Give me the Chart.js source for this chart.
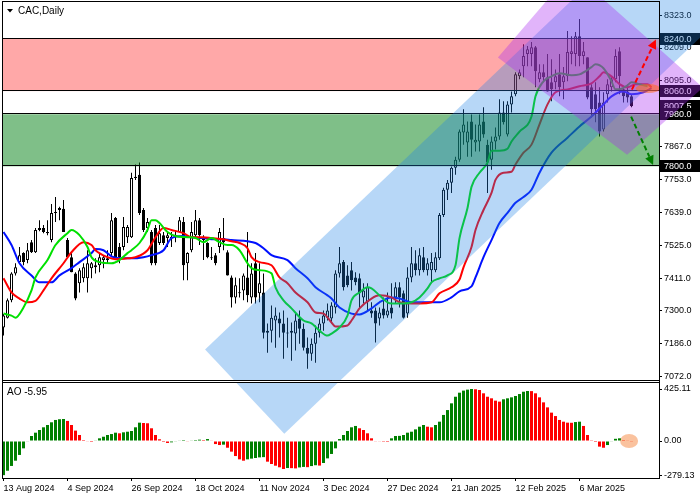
<!DOCTYPE html>
<html>
<head>
<meta charset="utf-8">
<script src="https://cdn.jsdelivr.net/npm/chart.js@4.4.1/dist/chart.umd.min.js"></script>
<style>
  html, body { margin: 0; padding: 0; background: #fff; }
  canvas { display: block; }
</style>
</head>
<body>
<canvas id="chart" width="700" height="500"></canvas>
<script>
// CAC, Daily - velas diarias (indice de barra 0 = 13 Aug 2024)
const opens = [7243,7277,7337,7430,7469,7500,7476,7538,7503,7587,7587,7573,7545,7639,7649,7653,7545,7486,7430,7396,
  7413,7413,7448,7458,7458,7476,7476,7500,7621,7521,7521,7555,7555,7760,7771,7649,7587,7573,7587,7535,
  7562,7552,7552,7559,7573,7608,7465,7510,7562,7614,7552,7535,7486,7493,7521,7552,7503,7416,7347,7361,
  7371,7416,7347,7465,7361,7364,7225,7232,7267,7274,7257,7226,7225,7222,7274,7239,7173,7152,7187,7225,
  7257,7277,7274,7312,7430,7469,7423,7441,7416,7413,7347,7330,7302,7302,7274,7309,7284,7312,7347,7382,
  7361,7291,7416,7465,7441,7486,7441,7441,7441,7482,7632,7719,7743,7795,7823,7917,7882,7955,7882,7886,
  7955,7875,7823,7886,7903,7986,7910,8014,8049,8111,8146,8188,8188,8212,8101,8125,8108,8091,8091,8118,
  8091,8111,8188,8188,8250,8181,8177,8073,8049,8021,7927,8049,8073,8101,8198,8066,8059,8042];
const highs = [7290,7343,7434,7465,7521,7503,7535,7545,7587,7614,7597,7614,7670,7694,7660,7684,7552,7500,7434,7448,
  7465,7510,7469,7482,7500,7493,7510,7639,7625,7535,7625,7597,7778,7806,7813,7656,7621,7580,7597,7597,
  7573,7573,7573,7580,7625,7625,7503,7608,7649,7621,7562,7538,7521,7500,7587,7621,7510,7423,7416,7413,
  7430,7573,7465,7500,7465,7430,7257,7319,7312,7295,7302,7277,7260,7291,7302,7257,7208,7205,7250,7274,
  7302,7326,7330,7441,7521,7476,7458,7469,7434,7430,7396,7396,7330,7312,7312,7347,7364,7396,7399,7399,
  7371,7451,7521,7510,7517,7521,7482,7500,7503,7639,7726,7753,7799,7833,7927,7997,7955,7979,7945,7979,
  8004,7892,7903,7934,8032,8025,8025,8059,8125,8135,8222,8216,8230,8216,8153,8153,8188,8170,8135,8188,
  8143,8268,8250,8264,8309,8230,8177,8084,8091,8073,8056,8101,8108,8205,8212,8077,8084,8049];
const lows = [7215,7274,7330,7423,7465,7458,7465,7500,7500,7576,7569,7562,7538,7608,7614,7573,7486,7434,7337,7364,
  7399,7364,7413,7430,7434,7448,7465,7486,7482,7465,7510,7535,7552,7753,7632,7573,7573,7458,7458,7528,
  7528,7521,7521,7538,7573,7406,7406,7503,7555,7528,7476,7482,7476,7458,7500,7510,7423,7312,7326,7347,
  7337,7330,7326,7326,7330,7205,7156,7191,7173,7208,7135,7173,7128,7163,7187,7163,7100,7128,7121,7208,
  7232,7267,7257,7291,7416,7371,7382,7371,7389,7309,7326,7302,7277,7191,7250,7274,7277,7274,7326,7312,
  7274,7277,7399,7423,7423,7434,7423,7396,7434,7476,7625,7684,7708,7771,7816,7875,7833,7833,7851,7851,
  7899,7708,7788,7858,7892,7945,7903,7986,8042,8101,8108,8146,8146,8073,8091,8091,8059,8025,8066,8042,
  8032,8094,8153,8146,8146,8153,8032,7969,7952,7903,7920,8021,8059,8091,8049,8021,8021,8004];
const closes = [7284,7337,7430,7451,7493,7469,7510,7503,7580,7580,7573,7569,7639,7642,7656,7573,7486,7434,7343,7441,
  7451,7465,7465,7451,7486,7486,7482,7614,7486,7486,7590,7590,7760,7764,7639,7580,7608,7465,7465,7569,
  7535,7562,7556,7563,7614,7458,7500,7573,7614,7562,7545,7486,7482,7465,7573,7538,7423,7347,7389,7365,
  7423,7354,7430,7347,7396,7225,7232,7277,7284,7257,7225,7222,7232,7267,7239,7173,7152,7187,7225,7257,
  7284,7302,7319,7430,7465,7382,7389,7406,7399,7361,7371,7382,7291,7257,7295,7284,7302,7291,7382,7347,
  7277,7416,7465,7441,7493,7441,7465,7469,7486,7632,7719,7743,7795,7823,7920,7945,7920,7892,7892,7945,
  7910,7813,7886,7903,7986,7952,8014,8042,8118,8125,8181,8205,8212,8129,8125,8108,8059,8066,8111,8073,
  8111,8195,8198,8250,8181,8198,8038,7997,7997,7920,8021,8084,8101,8181,8111,8042,8038,8007.5];

const jawBars = [0,2,4,7,9,12,14,17,19,22,23,25,27,30,32,35,37,40,42,45,47,50,52,55,57,61,63,65,67,71,
  73,76,78,81,82,84,87,89,92,94,97,99,102,104,107,109,112,114,117,118,120,122,124,126,128,130,132,134,137,141,
  144,147,150,152,155,157,160,162];
const jawVals = [7573,7528,7465,7423,7399,7399,7423,7448,7469,7500,7514,7510,7489,7482,7482,7486,7493,7510,7552,7559,
  7555,7552,7548,7548,7545,7541,7535,7517,7493,7476,7448,7413,7382,7354,7343,7312,7291,7288,7309,7330,
  7347,7343,7330,7330,7330,7330,7347,7368,7385,7416,7486,7545,7604,7639,7674,7694,7719,7778,7847,7899,
  7938,7972,8014,8042,8059,8049,8056,8070];
const teethBars = [0,2,4,6,8,10,12,15,17,20,22,23,26,28,31,33,36,38,40,42,45,47,50,52,55,57,59,61,62,64,
  67,69,71,73,76,78,80,82,83,86,87,89,92,94,97,99,102,104,107,109,112,114,115,117,118,120,122,123,125,127,
  128,130,132,134,136,138,141,144,147,149,150,152,154,156,158,161,162];
const teethVals = [7413,7364,7343,7330,7335,7371,7413,7465,7503,7538,7528,7510,7486,7479,7482,7486,7510,7555,7587,7580,
  7569,7555,7555,7552,7548,7541,7535,7517,7486,7469,7458,7416,7396,7364,7330,7295,7291,7260,7246,7250,
  7267,7309,7343,7354,7347,7330,7326,7326,7330,7361,7382,7409,7451,7521,7580,7649,7708,7753,7778,7781,
  7806,7847,7875,7945,8014,8056,8066,8077,8087,8111,8125,8111,8084,8073,8084,8084,8073];
const lipsBars = [0,2,3,5,7,8,11,13,16,17,19,21,22,24,27,29,31,32,34,36,37,38,39,41,43,46,48,50,52,54,
  56,57,59,61,62,64,67,68,70,72,75,77,79,81,82,84,86,87,89,91,92,94,96,97,100,102,104,106,107,109,
  111,113,114,116,117,119,121,122,124,126,127,129,132,133,135,137,139,142,144,147,148,150,152,153,154,156,157,159,161];
const lipsVals = [7291,7284,7277,7312,7371,7416,7476,7528,7569,7580,7562,7521,7486,7469,7465,7476,7500,7510,7535,7580,
  7614,7614,7604,7573,7559,7555,7552,7538,7552,7538,7528,7528,7510,7465,7448,7441,7430,7382,7337,7309,
  7267,7257,7232,7215,7222,7243,7284,7337,7364,7382,7378,7354,7330,7326,7326,7330,7347,7378,7399,7413,
  7423,7458,7552,7656,7729,7778,7813,7854,7854,7861,7886,7920,7972,8042,8094,8111,8122,8115,8118,8143,
  8153,8139,8094,8066,8066,8080,8091,8084,8077];

// Awesome Oscillator
const aoVals = [-279.13,-243,-204,-161,-114,-60,-5,41,68,90,112,131,153,172,178,180,164,131,85,49,
  8,-5,-8,3,22,35,49,57,68,63,71,76,82,112,150,147,145,104,49,14,
  -8,-16,-11,-3,5,8,-3,3,8,11,8,16,5,-25,-33,-30,-55,-87,-123,-150,
  -161,-150,-144,-139,-134,-132,-169,-188,-202,-215,-229,-221,-222,-224,-216,-212,-214,-205,-198,-201,
  -180,-142,-106,-60,16,49,82,112,123,104,90,63,22,-3,-5,-7,-8,22,41,42,
  49,68,76,95,117,131,117,112,131,158,213,253,308,362,395,412,420,425.11,423,417,
  390,362,349,330,322,341,349,357,368,384,403,409,408,390,357,316,275,232,204,172,
  158,150,149,155,158,123,49,2,-8,-46,-55,-33,-5,18,22,8,3,-5.95];

// ejes
const priceTicks = [8323, 8209, 8095, 7981, 7867, 7753, 7639, 7525, 7411, 7300, 7186, 7072];
const aoTicks = [425.11, 0, -279.13];
const tickBars = [0, 16, 32, 48, 64, 80, 96, 112, 128, 144];
const tickLabels = ['13 Aug 2024', '4 Sep 2024', '26 Sep 2024', '18 Oct 2024', '11 Nov 2024',
  '3 Dec 2024', '27 Dec 2024', '21 Jan 2025', '12 Feb 2025', '6 Mar 2025'];

// niveles y objetos dibujados (barra, precio)
const resistZone = [8240, 8060];
const supportZone = [7980, 7800];
const lastPrice = 8007.5;
const channelPts = [[50.4, 7167], [70.2, 6876], [190.2, 8456], [170.4, 8747]];
const flagPts = [[123.6, 8176], [142.1, 8474], [174.9, 8072], [155.9, 7840]];
const upArrow = [[157.1, 8065], [163.1, 8238]];
const downArrow = [[156.9, 7972], [162.4, 7805]];
const priceMark = [161.1, 8069];
const aoMark = [156.4, 0];

Chart.defaults.font.family = "'Liberation Sans', Arial, sans-serif";
Chart.defaults.font.size = 9;
Chart.defaults.color = '#000';

const barIdx = opens.map((_, i) => i);
const bodyData = barIdx.map(i => ({ x: i, y: [opens[i], closes[i]] }));
const bodyColors = barIdx.map(i => closes[i] >= opens[i] ? '#ffffff' : '#000000');
const wickData = barIdx.map(i => ({ x: i, y: [lows[i], highs[i]] }));
const aoData = aoVals.map((v, i) => ({ x: i, y: v }));
const aoColors = aoVals.map((v, i) => (i === 0 || v > aoVals[i - 1]) ? '#008000' : '#ff0000');
const pts = (bars, vals) => bars.map((b, i) => ({ x: b, y: vals[i] }));

function toPx(chart, p, axis) {
    return [chart.scales.x.getPixelForValue(p[0]), chart.scales[axis || 'y'].getPixelForValue(p[1])];
}

function fillPoly(ctx, pp, color) {
    ctx.beginPath();
    pp.forEach((p, i) => i ? ctx.lineTo(p[0], p[1]) : ctx.moveTo(p[0], p[1]));
    ctx.closePath();
    ctx.fillStyle = color;
    ctx.fill();
}

function drawArrow(ctx, a, b, color) {
    const ang = Math.atan2(b[1] - a[1], b[0] - a[0]);
    const head = 9, half = 4.5;
    const ex = b[0] - Math.cos(ang) * head, ey = b[1] - Math.sin(ang) * head;
    ctx.strokeStyle = color;
    ctx.lineWidth = 2;
    ctx.setLineDash([5, 3]);
    ctx.beginPath();
    ctx.moveTo(a[0], a[1]);
    ctx.lineTo(ex, ey);
    ctx.stroke();
    ctx.setLineDash([]);
    fillPoly(ctx, [b, [ex + Math.sin(ang) * half, ey - Math.cos(ang) * half], [ex - Math.sin(ang) * half, ey + Math.cos(ang) * half]], color);
}

function priceBox(ctx, chart, price, text) {
    const yy = Math.round(chart.scales.y.getPixelForValue(price));
    const left = chart.chartArea.right + 1;
    ctx.fillStyle = '#000';
    ctx.fillRect(left, yy - 6, 700 - left, 12);
    ctx.fillStyle = '#fff';
    ctx.font = "9px 'Liberation Sans', Arial, sans-serif";
    ctx.textAlign = 'left';
    ctx.textBaseline = 'middle';
    ctx.fillText(text, left + 4, yy + 0.5);
}

// sin margen extra por las etiquetas de los extremos
const noPad = s => { s.paddingTop = 0; s.paddingBottom = 0; s.paddingLeft = 0; s.paddingRight = 0; };

const overlay = {
    id: 'overlay',
    afterDatasetsDraw(chart) {
        const { ctx, chartArea: a, scales: { y } } = chart;
        ctx.save();
        // zonas de resistencia y soporte
        [[resistZone, 'rgba(255,0,0,0.34)'], [supportZone, 'rgba(0,128,17,0.5)']].forEach(([z, c]) => {
            const y1 = y.getPixelForValue(z[0]), y2 = y.getPixelForValue(z[1]);
            ctx.fillStyle = c;
            ctx.fillRect(a.left, y1, a.right - a.left, y2 - y1);
            ctx.fillStyle = '#000';
            [y1, y2].forEach(v => ctx.fillRect(a.left, Math.round(v) - 1, a.right - a.left, 1));
        });
        ctx.restore();
    },
    afterDraw(chart) {
        const { ctx, chartArea: a } = chart;
        ctx.save();
        // etiquetas de precio en el eje
        priceBox(ctx, chart, resistZone[0], resistZone[0].toFixed(1));
        priceBox(ctx, chart, resistZone[1], resistZone[1].toFixed(1));
        priceBox(ctx, chart, lastPrice, lastPrice.toFixed(1));
        priceBox(ctx, chart, supportZone[0], supportZone[0].toFixed(1));
        priceBox(ctx, chart, supportZone[1], supportZone[1].toFixed(1));

        // canal alcista y bandera
        fillPoly(ctx, channelPts.map(p => toPx(chart, p)), 'rgba(30,130,230,0.32)');
        fillPoly(ctx, flagPts.map(p => toPx(chart, p)), 'rgba(170,40,240,0.35)');

        // flechas de escenario
        drawArrow(ctx, toPx(chart, upArrow[0]), toPx(chart, upArrow[1]), '#ff0000');
        drawArrow(ctx, toPx(chart, downArrow[0]), toPx(chart, downArrow[1]), '#008000');

        // marcas naranjas
        const m1 = toPx(chart, priceMark);
        ctx.fillStyle = 'rgba(255,110,30,0.55)';
        ctx.beginPath(); ctx.ellipse(m1[0], m1[1], 12, 4.5, 0, 0, Math.PI * 2); ctx.fill();
        const m2 = toPx(chart, aoMark, 'yAO');
        ctx.fillStyle = 'rgba(245,120,40,0.45)';
        ctx.beginPath(); ctx.ellipse(m2[0], m2[1], 9, 7, 0, 0, Math.PI * 2); ctx.fill();

        // marcos de los paneles
        ctx.fillStyle = '#fff';
        ctx.fillRect(a.left, 381, a.right - a.left, 1);
        ctx.fillStyle = '#000';
        ctx.fillRect(a.left, 1, a.right - a.left, 1);
        ctx.fillRect(a.left, 380, a.right - a.left, 1);
        ctx.fillRect(a.left, 382, a.right - a.left, 1);
        ctx.fillRect(a.left, 478, a.right - a.left + 1, 1);
        ctx.fillRect(a.left, 1, 1, 478);
        ctx.fillRect(a.right, 1, 1, 478);

        // titulos
        fillPoly(ctx, [[7, 9], [13, 9], [10, 12.5]], '#000');
        ctx.fillStyle = '#000';
        ctx.font = "10px 'Liberation Sans', Arial, sans-serif";
        ctx.textAlign = 'left';
        ctx.textBaseline = 'middle';
        ctx.fillText('CAC,Daily', 18, 11);
        ctx.fillText('AO ' + aoVals[aoVals.length - 1].toFixed(2), 7, 392);
        ctx.restore();
    }
};

new Chart(document.getElementById('chart'), {
    type: 'bar',
    data: {
        datasets: [
            { type: 'line', label: 'Lips', data: pts(lipsBars, lipsVals), borderColor: '#00e000', borderWidth: 2,
              pointRadius: 0, cubicInterpolationMode: 'monotone', yAxisID: 'y' },
            { type: 'line', label: 'Teeth', data: pts(teethBars, teethVals), borderColor: '#ff0000', borderWidth: 2,
              pointRadius: 0, cubicInterpolationMode: 'monotone', yAxisID: 'y' },
            { type: 'line', label: 'Jaw', data: pts(jawBars, jawVals), borderColor: '#0010ff', borderWidth: 2,
              pointRadius: 0, cubicInterpolationMode: 'monotone', yAxisID: 'y' },
            { label: 'Body', data: bodyData, backgroundColor: bodyColors, borderColor: '#000', borderWidth: 1,
              borderSkipped: false, barThickness: 3, grouped: false, inflateAmount: 0, yAxisID: 'y' },
            { label: 'Wick', data: wickData, backgroundColor: '#000', borderWidth: 0,
              barThickness: 1, grouped: false, inflateAmount: 0, yAxisID: 'y' },
            { label: 'AO', data: aoData, backgroundColor: aoColors, borderWidth: 0,
              barThickness: 3, grouped: false, inflateAmount: 0, yAxisID: 'yAO' }
        ]
    },
    options: {
        responsive: false,
        devicePixelRatio: 1,
        animation: false,
        events: [],
        layout: { padding: { left: 2, top: 2, right: 0, bottom: 0 } },
        plugins: { legend: { display: false }, tooltip: { enabled: false } },
        scales: {
            x: {
                type: 'linear', min: -0.375, max: 163.875, offset: false,
                afterBuildTicks: s => { s.ticks = tickBars.map(v => ({ value: v })); },
                afterFit: s => { s.height = 22; noPad(s); },
                ticks: { callback: (v, i) => tickLabels[i], align: 'start', autoSkip: false, maxRotation: 0, padding: 2 },
                grid: { drawOnChartArea: false, offset: false, tickLength: 3, color: '#000' },
                border: { display: false }
            },
            y: {
                type: 'linear', position: 'right', stack: 'panes', stackWeight: 379, min: 7058, max: 8368,
                afterBuildTicks: s => { s.ticks = priceTicks.map(v => ({ value: v })); },
                afterFit: s => { s.width = 41; noPad(s); },
                ticks: { callback: v => v.toFixed(1), autoSkip: false, padding: 2 },
                grid: { drawOnChartArea: false, tickLength: 3, color: '#000' },
                border: { display: false }
            },
            yAO: {
                type: 'linear', position: 'right', stack: 'panes', stackWeight: 97, min: -302.5, max: 490.6,
                afterBuildTicks: s => { s.ticks = aoTicks.map(v => ({ value: v })); },
                afterFit: s => { s.width = 41; noPad(s); },
                ticks: { callback: v => v.toFixed(2), autoSkip: false, padding: 2 },
                grid: { drawOnChartArea: false, tickLength: 3, color: '#000' },
                border: { display: false }
            }
        }
    },
    plugins: [overlay]
});
</script>
</body>
</html>
